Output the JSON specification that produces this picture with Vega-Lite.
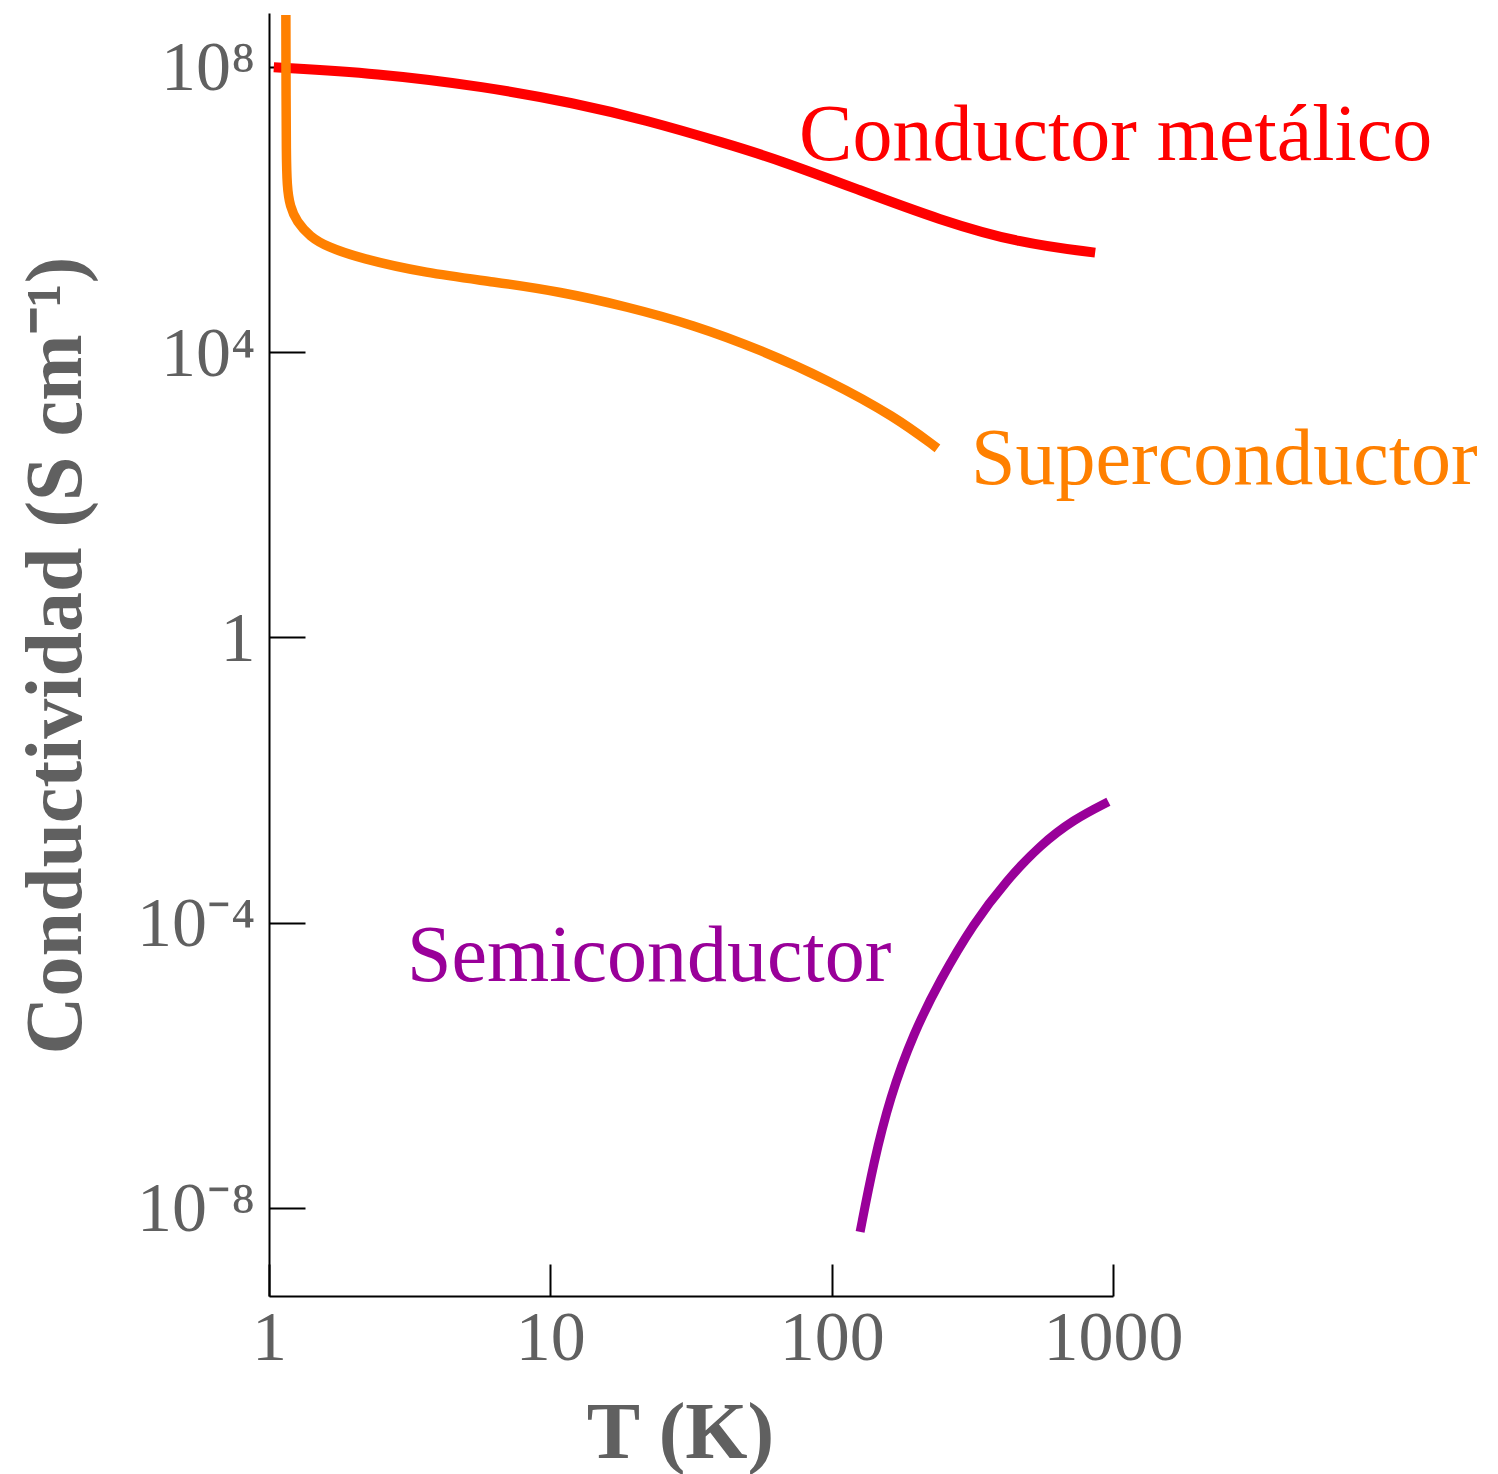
{
  "$schema": "https://vega.github.io/schema/vega-lite/v6.json",
  "width": 844,
  "height": 1283,
  "autosize": "none",
  "padding": {"left": 269, "top": 13, "right": 385, "bottom": 178},
  "background": "white",
  "view": {"stroke": null},
  "config": {"font": "Liberation Serif"},
  "datasets": {
    "curves": [
      {"series": "Conductor metálico", "T": 1.04, "sigma": 99000000},
      {"series": "Conductor metálico", "T": 2.423, "sigma": 81700000},
      {"series": "Conductor metálico", "T": 5.83, "sigma": 53000000},
      {"series": "Conductor metálico", "T": 12.27, "sigma": 31000000},
      {"series": "Conductor metálico", "T": 21.71, "sigma": 18100000},
      {"series": "Conductor metálico", "T": 41.9, "sigma": 8510000},
      {"series": "Conductor metálico", "T": 64.9, "sigma": 4970000},
      {"series": "Conductor metálico", "T": 125.4, "sigma": 1880000},
      {"series": "Conductor metálico", "T": 241.9, "sigma": 714000},
      {"series": "Conductor metálico", "T": 467, "sigma": 337000},
      {"series": "Conductor metálico", "T": 864, "sigma": 249000},
      {"series": "Superconductor", "T": 1.148, "sigma": 536000000},
      {"series": "Superconductor", "T": 1.15, "sigma": 34400000},
      {"series": "Superconductor", "T": 1.152, "sigma": 6860000},
      {"series": "Superconductor", "T": 1.158, "sigma": 2090000},
      {"series": "Superconductor", "T": 1.188, "sigma": 1100000},
      {"series": "Superconductor", "T": 1.254, "sigma": 676000},
      {"series": "Superconductor", "T": 1.399, "sigma": 417000},
      {"series": "Superconductor", "T": 1.604, "sigma": 302000},
      {"series": "Superconductor", "T": 2.106, "sigma": 207000},
      {"series": "Superconductor", "T": 3.624, "sigma": 128000},
      {"series": "Superconductor", "T": 6.27, "sigma": 97500},
      {"series": "Superconductor", "T": 10.85, "sigma": 70600},
      {"series": "Superconductor", "T": 18.75, "sigma": 43500},
      {"series": "Superconductor", "T": 32.45, "sigma": 24000},
      {"series": "Superconductor", "T": 56.2, "sigma": 10700},
      {"series": "Superconductor", "T": 97.1, "sigma": 4070},
      {"series": "Superconductor", "T": 168.1, "sigma": 1245},
      {"series": "Superconductor", "T": 237.7, "sigma": 449},
      {"series": "Semiconductor", "T": 126.2, "sigma": 4.62e-9},
      {"series": "Semiconductor", "T": 140.7, "sigma": 4.21e-8},
      {"series": "Semiconductor", "T": 161.3, "sigma": 3.61e-7},
      {"series": "Semiconductor", "T": 195.2, "sigma": 2.8e-6},
      {"series": "Semiconductor", "T": 242.8, "sigma": 1.57e-5},
      {"series": "Semiconductor", "T": 318.9, "sigma": 9.77e-5},
      {"series": "Semiconductor", "T": 419.3, "sigma": 3.95e-4},
      {"series": "Semiconductor", "T": 550.6, "sigma": 1.225e-3},
      {"series": "Semiconductor", "T": 723.1, "sigma": 2.79e-3},
      {"series": "Semiconductor", "T": 962.9, "sigma": 4.97e-3}
    ],
    "labels": [
      {"series": "Conductor metálico", "T": 76.6, "sigma": 4970000},
      {"series": "Superconductor", "T": 313, "sigma": 141.6},
      {"series": "Semiconductor", "T": 3.094, "sigma": 1.517e-5}
    ]
  },
  "layer": [
    {
      "data": {"name": "curves"},
      "mark": {"type": "line", "interpolate": "basis"},
      "encoding": {
        "x": {
          "field": "T",
          "type": "quantitative",
          "scale": {"type": "log", "domain": [1, 1000], "nice": false},
          "axis": {
            "values": [1, 10, 100, 1000],
            "labelExpr": "format(datum.value, 'd')",
            "grid": false,
            "tickSize": -32,
            "tickWidth": 2,
            "tickColor": "black",
            "domainColor": "black",
            "domainWidth": 2,
            "labelFont": "Liberation Serif",
            "labelFontSize": 70,
            "labelColor": "#606060",
            "labelPadding": 40,
            "labelFlush": false,
            "labelOverlap": false,
            "labelBaseline": "top",
            "title": "T (K)",
            "titleFont": "Liberation Serif",
            "titleFontSize": 80,
            "titleFontWeight": "bold",
            "titleColor": "#606060",
            "titleX": 411,
            "titleY": 161,
            "titleBaseline": "alphabetic",
            "titleAlign": "center"
          }
        },
        "y": {
          "field": "sigma",
          "type": "quantitative",
          "scale": {"type": "log", "domain": [5.83e-10, 5.71e8], "nice": false},
          "axis": {
            "values": [1e-8, 0.0001, 1, 10000, 100000000],
            "labelExpr": "datum.value > 1e7 ? '10⁸' : datum.value > 1000 ? '10⁴' : datum.value > 0.5 ? '1' : datum.value > 1e-5 ? '10⁻⁴' : '10⁻⁸'",
            "grid": false,
            "tickSize": -36,
            "tickWidth": 2,
            "tickColor": "black",
            "domainColor": "black",
            "domainWidth": 2,
            "labelFont": "Liberation Serif",
            "labelFontSize": 70,
            "labelColor": "#606060",
            "labelPadding": 50,
            "labelOffset": 2,
            "labelBaseline": "middle",
            "labelOverlap": false,
            "labelFlush": false,
            "title": "Conductividad (S cm⁻¹)",
            "titleFont": "Liberation Serif",
            "titleFontSize": 80,
            "titleFontWeight": "bold",
            "titleColor": "#606060",
            "titleAngle": -90,
            "titleX": -189,
            "titleY": 642,
            "titleBaseline": "alphabetic",
            "titleAlign": "center"
          }
        },
        "color": {
          "field": "series",
          "type": "nominal",
          "scale": {"domain": ["Conductor metálico", "Superconductor", "Semiconductor"], "range": ["#ff0000", "#ff8000", "#990099"]},
          "legend": null
        },
        "strokeWidth": {
          "field": "series",
          "type": "nominal",
          "scale": {"domain": ["Conductor metálico", "Superconductor", "Semiconductor"], "range": [10, 9, 8]},
          "legend": null
        }
      }
    },
    {
      "data": {"name": "labels"},
      "mark": {"type": "text", "align": "left", "baseline": "alphabetic", "fontSize": 80, "font": "Liberation Serif"},
      "encoding": {
        "x": {"field": "T", "type": "quantitative"},
        "y": {"field": "sigma", "type": "quantitative"},
        "text": {"field": "series"},
        "color": {"field": "series", "type": "nominal", "legend": null}
      }
    }
  ]
}
